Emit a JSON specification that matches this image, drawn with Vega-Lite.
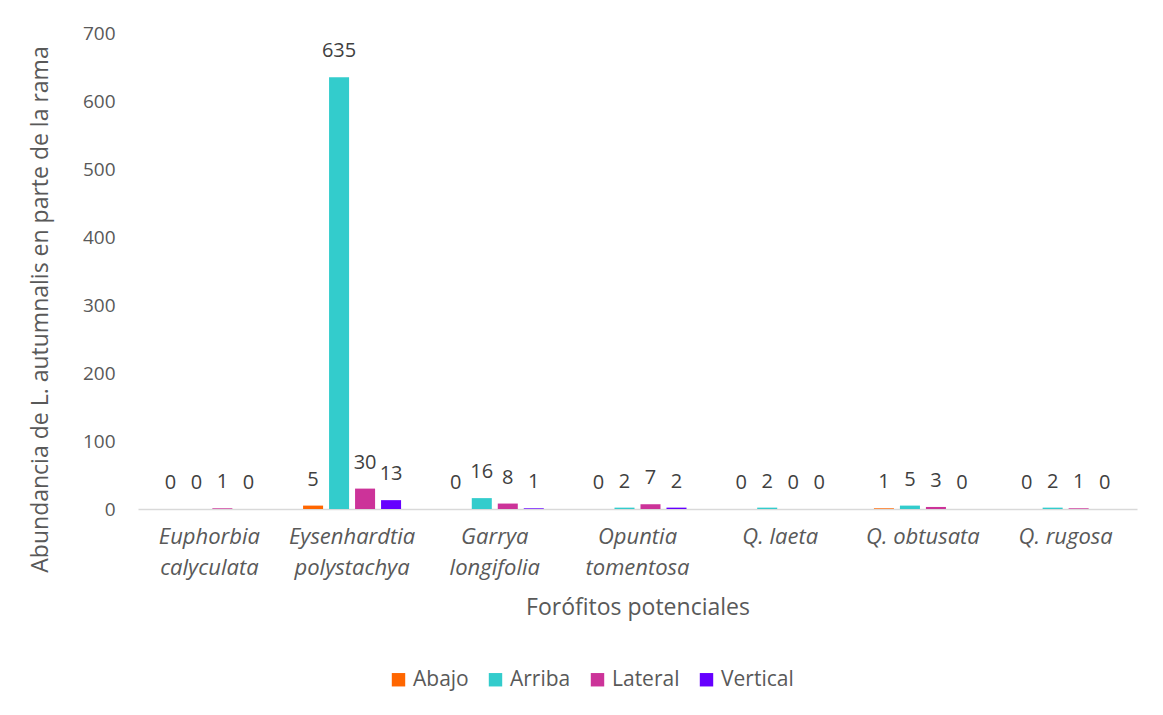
{
  "$schema": "https://vega.github.io/schema/vega-lite/v6.json",
  "width": 999,
  "height": 476,
  "autosize": {"type": "none"},
  "padding": {"left": 138, "top": 33, "right": 26, "bottom": 206},
  "background": "white",
  "config": {
    "view": {"stroke": null},
    "font": "Open Sans",
    "text": {"font": "Open Sans"}
  },
  "data": {
    "values": [
      {"forofito": "Euphorbia calyculata", "posicion": "Abajo", "valor": 0},
      {"forofito": "Euphorbia calyculata", "posicion": "Arriba", "valor": 0},
      {"forofito": "Euphorbia calyculata", "posicion": "Lateral", "valor": 1},
      {"forofito": "Euphorbia calyculata", "posicion": "Vertical", "valor": 0},
      {"forofito": "Eysenhardtia polystachya", "posicion": "Abajo", "valor": 5},
      {"forofito": "Eysenhardtia polystachya", "posicion": "Arriba", "valor": 635},
      {"forofito": "Eysenhardtia polystachya", "posicion": "Lateral", "valor": 30},
      {"forofito": "Eysenhardtia polystachya", "posicion": "Vertical", "valor": 13},
      {"forofito": "Garrya longifolia", "posicion": "Abajo", "valor": 0},
      {"forofito": "Garrya longifolia", "posicion": "Arriba", "valor": 16},
      {"forofito": "Garrya longifolia", "posicion": "Lateral", "valor": 8},
      {"forofito": "Garrya longifolia", "posicion": "Vertical", "valor": 1},
      {"forofito": "Opuntia tomentosa", "posicion": "Abajo", "valor": 0},
      {"forofito": "Opuntia tomentosa", "posicion": "Arriba", "valor": 2},
      {"forofito": "Opuntia tomentosa", "posicion": "Lateral", "valor": 7},
      {"forofito": "Opuntia tomentosa", "posicion": "Vertical", "valor": 2},
      {"forofito": "Q. laeta", "posicion": "Abajo", "valor": 0},
      {"forofito": "Q. laeta", "posicion": "Arriba", "valor": 2},
      {"forofito": "Q. laeta", "posicion": "Lateral", "valor": 0},
      {"forofito": "Q. laeta", "posicion": "Vertical", "valor": 0},
      {"forofito": "Q. obtusata", "posicion": "Abajo", "valor": 1},
      {"forofito": "Q. obtusata", "posicion": "Arriba", "valor": 5},
      {"forofito": "Q. obtusata", "posicion": "Lateral", "valor": 3},
      {"forofito": "Q. obtusata", "posicion": "Vertical", "valor": 0},
      {"forofito": "Q. rugosa", "posicion": "Abajo", "valor": 0},
      {"forofito": "Q. rugosa", "posicion": "Arriba", "valor": 2},
      {"forofito": "Q. rugosa", "posicion": "Lateral", "valor": 1},
      {"forofito": "Q. rugosa", "posicion": "Vertical", "valor": 0}
    ]
  },
  "encoding": {
    "x": {
      "field": "forofito",
      "type": "nominal",
      "sort": null,
      "scale": {"paddingInner": 0, "paddingOuter": 0},
      "axis": {
        "title": "Forófitos potenciales",
        "titleFont": "Open Sans",
        "titleFontSize": 23,
        "titleFontWeight": "normal",
        "titleColor": "#595959",
        "titleY": 98,
        "titleBaseline": "middle",
        "labelAngle": 0,
        "labelFont": "Open Sans",
        "labelFontSize": 22,
        "labelFontStyle": "italic",
        "labelColor": "#595959",
        "labelLineHeight": 31,
        "labelPadding": 17,
        "labelExpr": "indexof(datum.label, 'Q.') == 0 ? datum.label : split(datum.label, ' ')",
        "ticks": false,
        "domainColor": "#d9d9d9",
        "domainWidth": 1.5,
        "grid": false
      }
    },
    "xOffset": {
      "field": "posicion",
      "type": "nominal",
      "sort": ["Abajo", "Arriba", "Lateral", "Vertical"],
      "scale": {"paddingInner": 0.23, "paddingOuter": 0.86}
    },
    "y": {
      "field": "valor",
      "type": "quantitative",
      "scale": {"domain": [0, 700]},
      "axis": {
        "title": "Abundancia de L. autumnalis en parte de la  rama",
        "titleFont": "Open Sans",
        "titleFontSize": 23,
        "titleFontWeight": "normal",
        "titleColor": "#595959",
        "titleX": -98,
        "titleY": 276,
        "titleAngle": -90,
        "titleAlign": "center",
        "titleBaseline": "middle",
        "values": [0, 100, 200, 300, 400, 500, 600, 700],
        "labelFont": "Open Sans",
        "labelFontSize": 19,
        "labelColor": "#595959",
        "labelPadding": 23,
        "ticks": false,
        "domain": false,
        "grid": false
      }
    }
  },
  "layer": [
    {
      "mark": {"type": "bar"},
      "encoding": {
        "color": {
          "field": "posicion",
          "type": "nominal",
          "sort": ["Abajo", "Arriba", "Lateral", "Vertical"],
          "scale": {
            "domain": ["Abajo", "Arriba", "Lateral", "Vertical"],
            "range": ["#ff6600", "#33cccc", "#cc3399", "#6600ff"]
          },
          "legend": {
            "title": null,
            "orient": "none",
            "direction": "horizontal",
            "legendX": 250,
            "legendY": 636,
            "symbolType": "square",
            "symbolSize": 180,
            "symbolStrokeWidth": 0,
            "labelFont": "Open Sans",
            "labelFontSize": 21,
            "labelColor": "#595959",
            "labelOffset": 4,
            "columnPadding": 16
          }
        }
      }
    },
    {
      "mark": {
        "type": "text",
        "baseline": "middle",
        "dy": -26,
        "fontSize": 20,
        "color": "#404040",
        "font": "Open Sans"
      },
      "encoding": {
        "text": {"field": "valor", "type": "quantitative"}
      }
    }
  ]
}
